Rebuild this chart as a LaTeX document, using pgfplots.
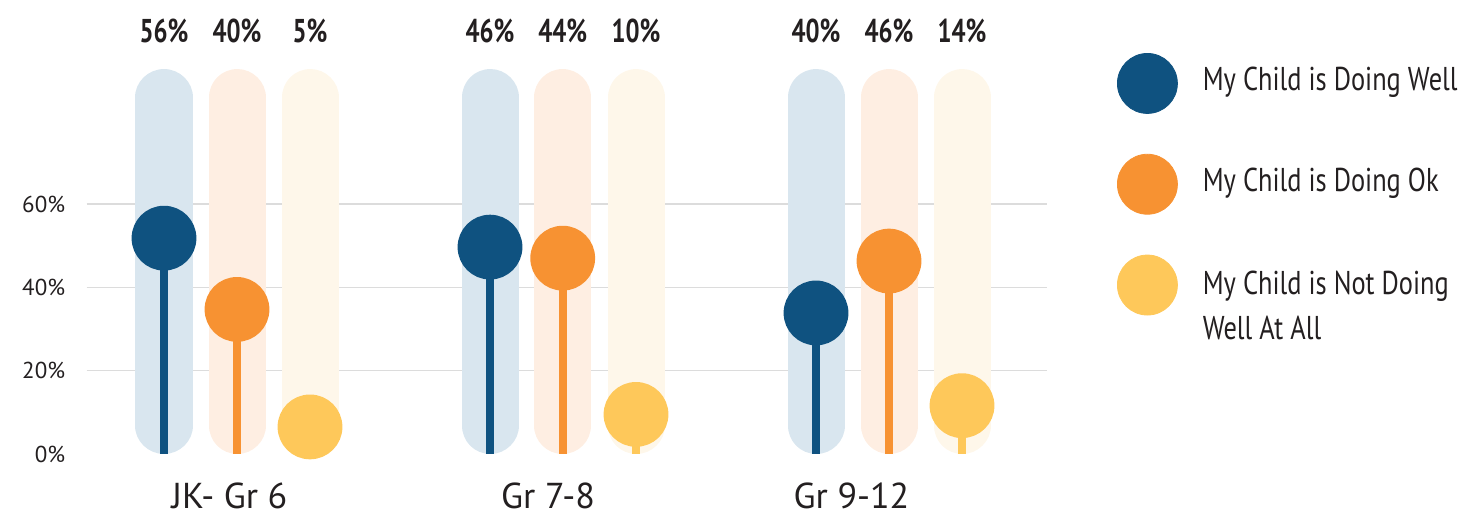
\documentclass[border=0pt]{standalone}
\usepackage{pgfplots}
\pgfplotsset{compat=1.18}
\usepackage{pgfplotstable}
\usepackage{fontspec}
\setmainfont{PT Sans}
\newfontfamily\condfont[FakeStretch=0.8]{PT Sans}
\newfontfamily\condbold[FakeStretch=0.75]{PT Sans Bold}
\definecolor{cwell}{HTML}{0F5280}
\definecolor{cok}{HTML}{F79232}
\definecolor{cnot}{HTML}{FEC85A}
\definecolor{pwell}{HTML}{D9E6EF}
\definecolor{pok}{HTML}{FEEEE2}
\definecolor{pnot}{HTML}{FEF7EA}
\definecolor{gridc}{HTML}{DCDCDC}
\definecolor{txt}{HTML}{231F20}

% series values (percent)
\pgfplotstableread{
x y lab
164 51.8 56
490 49.65 46
816 33.85 40
}\well
\pgfplotstableread{
x y lab
237 34.7 40
562.7 47.0 44
889 46.3 46
}\ok
\pgfplotstableread{
x y lab
310 6.5 5
636 9.5 10
962 11.6 14
}\notwell

\pgfplotsset{toplab/.style={forget plot, draw=none, mark=none, point meta=explicit,
  nodes near coords={\pgfmathprintnumber{\pgfplotspointmeta}\%},
  nodes near coords style={anchor=center, font=\condbold\fontsize{16.5}{19}\selectfont, text=txt, /pgf/number format/assume math mode=true}}}

\begin{document}
\begin{tikzpicture}
\begin{axis}[
  scale only axis,
  width=480pt, height=208.33pt,
  xmin=86.7, xmax=1046.7, ymin=0, ymax=100,
  clip=false,
  axis line style={draw=none},
  tick style={draw=none},
  ytick={20,40,60},
  extra y ticks={0},
  extra y tick style={grid=none},
  yticklabel={\pgfmathprintnumber{\tick}\%},
  ymajorgrids,
  grid style={gridc, line width=0.75pt},
  yticklabel style={anchor=east, inner sep=0pt, xshift=-10.6pt, font=\fontsize{11.5}{13}\selectfont, text=txt},
  /pgf/number format/assume math mode=true,
  xtick={229.5,548,851.5},
  xticklabels={JK- Gr 6, Gr 7-8, Gr 9-12},
  xticklabel style={anchor=base, inner sep=0pt, yshift=-27.5pt, font=\fontsize{18}{21}\selectfont, text=txt},
  unbounded coords=jump,
  legend style={at={(axis cs:1117,96.23)}, anchor=north west, draw=none, fill=none,
    inner sep=0pt, outer sep=0pt, row sep=20pt,
    nodes={inner sep=0pt},
    font=\condfont\fontsize{16.5}{19.8}\selectfont, text=txt},
  legend cell align=left,
  /tikz/every odd column/.append style={column sep=12.5pt},
]
% background tracks
\addplot[forget plot, pwell, line width=28.5pt, line cap=round] coordinates {(164,6.84) (164,85.55) (164,nan) (490,6.84) (490,85.55) (490,nan) (816,6.84) (816,85.55)};
\addplot[forget plot, pok, line width=28.5pt, line cap=round] coordinates {(237,6.84) (237,85.55) (237,nan) (562.7,6.84) (562.7,85.55) (562.7,nan) (889,6.84) (889,85.55)};
\addplot[forget plot, pnot, line width=28.5pt, line cap=round] coordinates {(310,6.84) (310,85.55) (310,nan) (636,6.84) (636,85.55) (636,nan) (962,6.84) (962,85.55)};
% lollipops
\addplot[forget plot, cwell, ycomb, line width=4pt, mark=*, mark size=14.2pt, mark options={fill=cwell, draw=none}] table[x=x,y=y] {\well};
\addplot[forget plot, cok, ycomb, line width=4pt, mark=*, mark size=14.2pt, mark options={fill=cok, draw=none}] table[x=x,y=y] {\ok};
\addplot[forget plot, cnot, ycomb, line width=4pt, mark=*, mark size=14.2pt, mark options={fill=cnot, draw=none}] table[x=x,y=y] {\notwell};
% value labels on top
\addplot[toplab] table[x=x, y expr=101.5, meta=lab] {\well};
\addplot[toplab] table[x=x, y expr=101.5, meta=lab] {\ok};
\addplot[toplab] table[x=x, y expr=101.5, meta=lab] {\notwell};
% legend
\addlegendimage{legend image code/.code={\fill[cwell] (15pt,-1.5pt) circle (15pt);}}
\addlegendentry{My Child is Doing Well}
\addlegendimage{legend image code/.code={\fill[cok] (15pt,-1.5pt) circle (15pt);}}
\addlegendentry{My Child is Doing Ok}
\addlegendimage{legend image code/.code={\fill[cnot] (15pt,-1.5pt) circle (15pt);}}
\addlegendentry{\begin{tabular}[t]{@{}l@{}}My Child is Not Doing\\[2.7pt]Well At All\end{tabular}}
\coordinate (bl) at (axis cs:0,-14.88);
\coordinate (tr) at (axis cs:1459,108.96);
\end{axis}
\pgfresetboundingbox
\path[use as bounding box] (bl) rectangle (tr);
\end{tikzpicture}
\end{document}
